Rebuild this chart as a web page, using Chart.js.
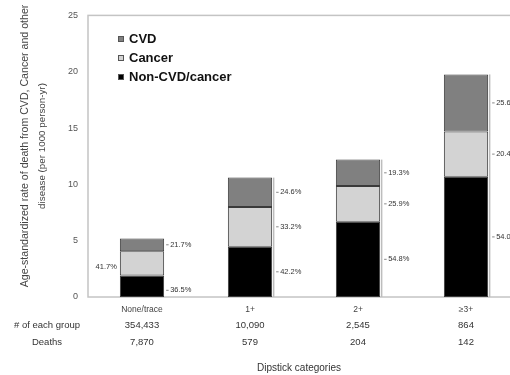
<!DOCTYPE html>
<html>
<head>
<meta charset="utf-8">
<script src="https://cdn.jsdelivr.net/npm/chart.js@4/dist/chart.umd.min.js"></script>
<style>
  html, body { margin: 0; padding: 0; background: #fff; overflow: hidden; }
  #wrap { width: 530px; height: 375px; }
</style>
</head>
<body>
<div id="wrap"><canvas id="grafico" width="530" height="375"></canvas></div>
<script>
// Dipstick categories and the stacked death rates (per 1000 person-yr)
const categories = ["None/trace", "1+", "2+", "≥3+"];
const nonCvdRates = [1.90, 4.47, 6.69, 10.67];
const cancerRates = [2.17, 3.52, 3.16, 4.03];
const cvdRates = [1.13, 2.61, 2.35, 5.06];

// Share of each cause within a bar, as printed beside it
const nonCvdPct = ["36.5%", "42.2%", "54.8%", "54.0%"];
const cancerPct = ["41.7%", "33.2%", "25.9%", "20.4%"];
const cvdPct = ["21.7%", "24.6%", "19.3%", "25.6%"];

// Rows under the axis
const groupSizes = ["354,433", "10,090", "2,545", "864"];
const deaths = ["7,870", "579", "204", "142"];

const yTicks = [0, 5, 10, 15, 20, 25];

const FONT = "'Liberation Sans', Arial, sans-serif";
const BORDER = "#3a3a3a";

const extras = {
  id: "extras",
  beforeDatasetsDraw(chart) {
    const { ctx, chartArea: a } = chart;
    ctx.save();
    ctx.strokeStyle = "#c4c4c4";
    ctx.lineWidth = 1.5;
    ctx.strokeRect(a.left, a.top, a.right - a.left, a.bottom - a.top);
    ctx.restore();
  },
  afterDatasetsDraw(chart) {
    const { ctx, scales: { x } } = chart;
    const metas = [0, 1, 2].map(d => chart.getDatasetMeta(d));
    const labels = [nonCvdPct, cancerPct, cvdPct];

    ctx.save();
    ctx.font = "7.5px " + FONT;
    ctx.textBaseline = "middle";
    ctx.fillStyle = "#333";

    categories.forEach((c, i) => {
      const bottom = metas[0].data[i];
      const top = metas[2].data[i];
      const right = bottom.x + bottom.width / 2;
      const left = bottom.x - bottom.width / 2;

      if (i > 0) {
        // bracket running down the right side of the bar
        ctx.strokeStyle = "#bdbdbd";
        ctx.lineWidth = 1.5;
        ctx.beginPath();
        ctx.moveTo(right + 1.5, top.y);
        ctx.lineTo(right + 1.5, bottom.base);
        ctx.stroke();
      }

      metas.forEach((m, d) => {
        const bar = m.data[i];
        // the short first bar has its lower labels pushed down a little
        const cy = (bar.y + bar.base) / 2 + (i === 0 && d < 2 ? 4 : 0);
        if (i === 0 && d === 1) {
          ctx.textAlign = "right";
          ctx.fillText(labels[d][i], left - 3, cy);
          return;
        }
        const tx = i === 0 ? right + 2 : right + 4;
        ctx.strokeStyle = "#888";
        ctx.lineWidth = 1;
        ctx.beginPath();
        ctx.moveTo(tx, cy);
        ctx.lineTo(tx + 2.5, cy);
        ctx.stroke();
        ctx.textAlign = "left";
        ctx.fillText(labels[d][i], tx + 4, cy);
      });
    });

    // group sizes and deaths under each category
    ctx.font = "9.5px " + FONT;
    ctx.fillStyle = "#333";
    ctx.textAlign = "center";
    ctx.fillText("# of each group", 47, 325);
    ctx.fillText("Deaths", 47, 342);
    categories.forEach((c, i) => {
      const px = x.getPixelForValue(i);
      ctx.fillText(groupSizes[i], px, 325);
      ctx.fillText(deaths[i], px, 342);
    });

    ctx.font = "10px " + FONT;
    ctx.fillText("Dipstick categories", 299, 368);

    // y axis title, two lines
    ctx.fillStyle = "#444";
    ctx.translate(0, 146);
    ctx.rotate(-Math.PI / 2);
    ctx.font = "10.6px " + FONT;
    ctx.fillText("Age-standardized rate of death from CVD, Cancer and other", 0, 25.5);
    ctx.font = "9.8px " + FONT;
    ctx.fillText("disease (per 1000 person-yr)", 0, 42);
    ctx.restore();

    // legend, CVD first
    ctx.save();
    ctx.font = "bold 13px " + FONT;
    ctx.textBaseline = "middle";
    ctx.textAlign = "left";
    [2, 1, 0].forEach((d, k) => {
      const ds = chart.data.datasets[d];
      const ly = 39 + k * 19;
      ctx.fillStyle = ds.backgroundColor;
      ctx.fillRect(118, ly - 3, 6, 6);
      ctx.strokeStyle = "#555";
      ctx.lineWidth = 1;
      ctx.strokeRect(118.5, ly - 2.5, 5, 5);
      ctx.fillStyle = "#111";
      ctx.fillText(ds.label, 129, ly);
    });
    ctx.restore();
  }
};

new Chart(document.getElementById("grafico"), {
  type: "bar",
  data: {
    labels: categories,
    datasets: [
      { label: "Non-CVD/cancer", data: nonCvdRates, backgroundColor: "#000000" },
      { label: "Cancer", data: cancerRates, backgroundColor: "#d3d3d3" },
      { label: "CVD", data: cvdRates, backgroundColor: "#808080" }
    ].map(ds => Object.assign(ds, {
      borderColor: BORDER,
      borderWidth: 1,
      borderSkipped: false,
      barPercentage: 0.41,
      categoryPercentage: 1
    }))
  },
  options: {
    responsive: false,
    animation: false,
    layout: { padding: { top: 15, right: 10, left: 0, bottom: 0 } },
    scales: {
      x: {
        stacked: true,
        grid: { display: false, drawTicks: false },
        border: { display: false },
        ticks: { color: "#444", padding: 8, font: { family: FONT, size: 8.5 } },
        afterFit: s => { s.height = 78; }
      },
      y: {
        stacked: true,
        min: 0,
        max: 25,
        afterBuildTicks: s => { s.ticks = yTicks.map(v => ({ value: v })); },
        grid: { display: false, drawTicks: false },
        border: { display: false },
        ticks: { color: "#555", padding: 10, font: { family: FONT, size: 9 } },
        afterFit: s => { s.width = 88; }
      }
    },
    plugins: {
      legend: { display: false },
      tooltip: { enabled: false }
    }
  },
  plugins: [extras]
});
</script>
</body>
</html>
